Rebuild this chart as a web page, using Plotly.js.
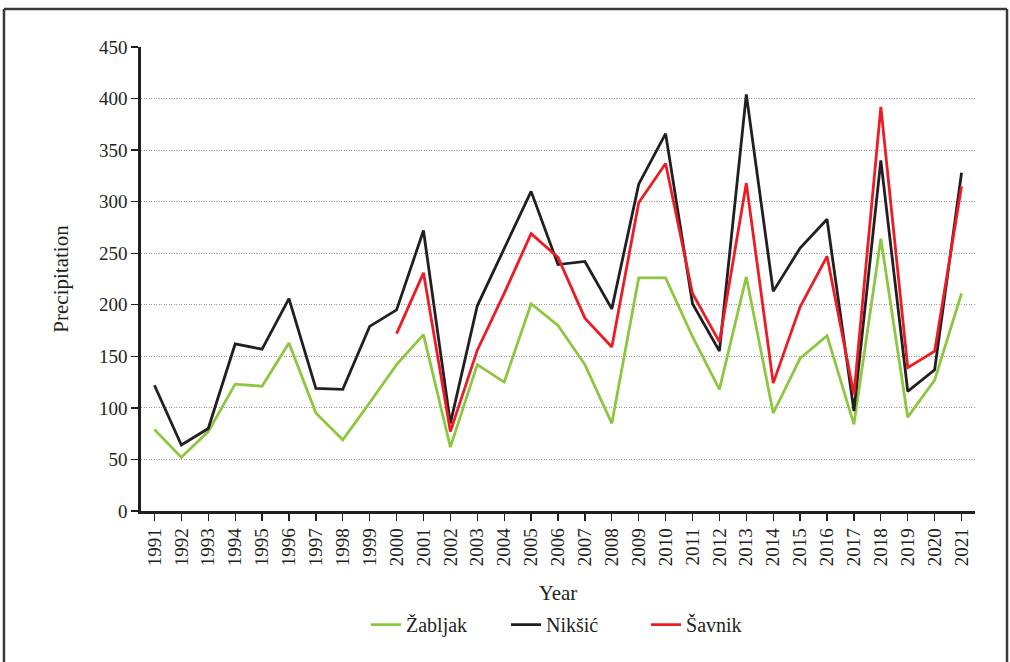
<!DOCTYPE html>
<html>
<head>
<meta charset="utf-8">
<script src="https://cdn.plot.ly/plotly-3.0.1.min.js"></script>
<style>
  html, body { margin: 0; padding: 0; background: #ffffff; }
  #chart { width: 1010px; height: 662px; }
</style>
</head>
<body>
<div id="chart"></div>
<script>
const years = [1991,1992,1993,1994,1995,1996,1997,1998,1999,2000,2001,2002,2003,2004,2005,2006,2007,2008,2009,2010,2011,2012,2013,2014,2015,2016,2017,2018,2019,2020,2021];

const zabljak = [79,52,77,123,121,163,95,69,105,142,171,62,142,125,201,180,142,85,226,226,169,118,227,95,148,170,84,264,91,127,211];

const niksic = [122,64,80,162,157,206,119,118,179,195,272,85,199,255,310,239,242,196,317,366,201,155,404,213,255,283,97,340,116,137,328];

const savnikYears = [2000,2001,2002,2003,2004,2005,2006,2007,2008,2009,2010,2011,2012,2013,2014,2015,2016,2017,2018,2019,2020,2021];
const savnik = [172,231,77,156,211,269,246,187,159,299,337,211,164,318,124,198,247,113,392,139,155,315];

const seriesNames = ["Žabljak", "Nikšić", "Šavnik"];
const yTicks = [0,50,100,150,200,250,300,350,400,450];

const FONT = "'Liberation Serif', 'Times New Roman', serif";

const traces = [
  {x: years, y: zabljak, name: seriesNames[0], type: "scatter", mode: "lines",
   line: {color: "#8DC63F", width: 2.8}},
  {x: years, y: niksic, name: seriesNames[1], type: "scatter", mode: "lines",
   line: {color: "#231F20", width: 2.8}},
  {x: savnikYears, y: savnik, name: seriesNames[2], type: "scatter", mode: "lines",
   line: {color: "#ED1C24", width: 2.8}}
];

const layout = {
  width: 1010, height: 662,
  margin: {l: 141, r: 35, t: 47, b: 151},
  paper_bgcolor: "#ffffff",
  plot_bgcolor: "#ffffff",
  font: {family: FONT, size: 19, color: "#231F20"},
  showlegend: true,
  legend: {
    orientation: "h", x: 0.5216, xanchor: "center", y: -0.245, yanchor: "middle",
    font: {family: FONT, size: 20, color: "#231F20"},
    traceorder: "normal",
    entrywidth: 95
  },
  xaxis: {
    range: [1990.5, 2021.5],
    tickmode: "array", tickvals: years, ticktext: years.map(String),
    tickangle: -90,
    ticks: "outside", ticklen: 7, tickwidth: 1.3, tickcolor: "#231F20",
    showline: true, linecolor: "#231F20", linewidth: 2.6,
    showgrid: false, zeroline: false,
    tickfont: {family: FONT, size: 19, color: "#231F20"},
    title: {text: "Year", standoff: 20, font: {family: FONT, size: 21, color: "#231F20"}},
    automargin: false
  },
  yaxis: {
    range: [0, 450],
    tickmode: "array", tickvals: yTicks,
    ticks: "outside", ticklen: 7, tickwidth: 1.3, tickcolor: "#231F20",
    showline: true, linecolor: "#231F20", linewidth: 2.6,
    showgrid: true, gridcolor: "#9A9A9A", gridwidth: 1, griddash: "1px,1.5px",
    zeroline: false,
    tickfont: {family: FONT, size: 19, color: "#231F20"},
    title: {text: "Precipitation", standoff: 25, font: {family: FONT, size: 21, color: "#231F20"}},
    automargin: false
  },
  shapes: [
    {type: "line", xref: "paper", yref: "paper", x0: -0.1643, x1: 1.0384, y0: 1.0819, y1: 1.0819,
     line: {color: "#3a3a3a", width: 2.5}},
    {type: "line", xref: "paper", yref: "paper", x0: -0.1643, x1: -0.1643, y0: 1.0819, y1: -0.4,
     line: {color: "#3a3a3a", width: 2.5}},
    {type: "line", xref: "paper", yref: "paper", x0: 1.0384, x1: 1.0384, y0: 1.0819, y1: -0.4,
     line: {color: "#3a3a3a", width: 2.5}}
  ]
};

Plotly.newPlot("chart", traces, layout, {displayModeBar: false, staticPlot: true});
</script>
</body>
</html>
